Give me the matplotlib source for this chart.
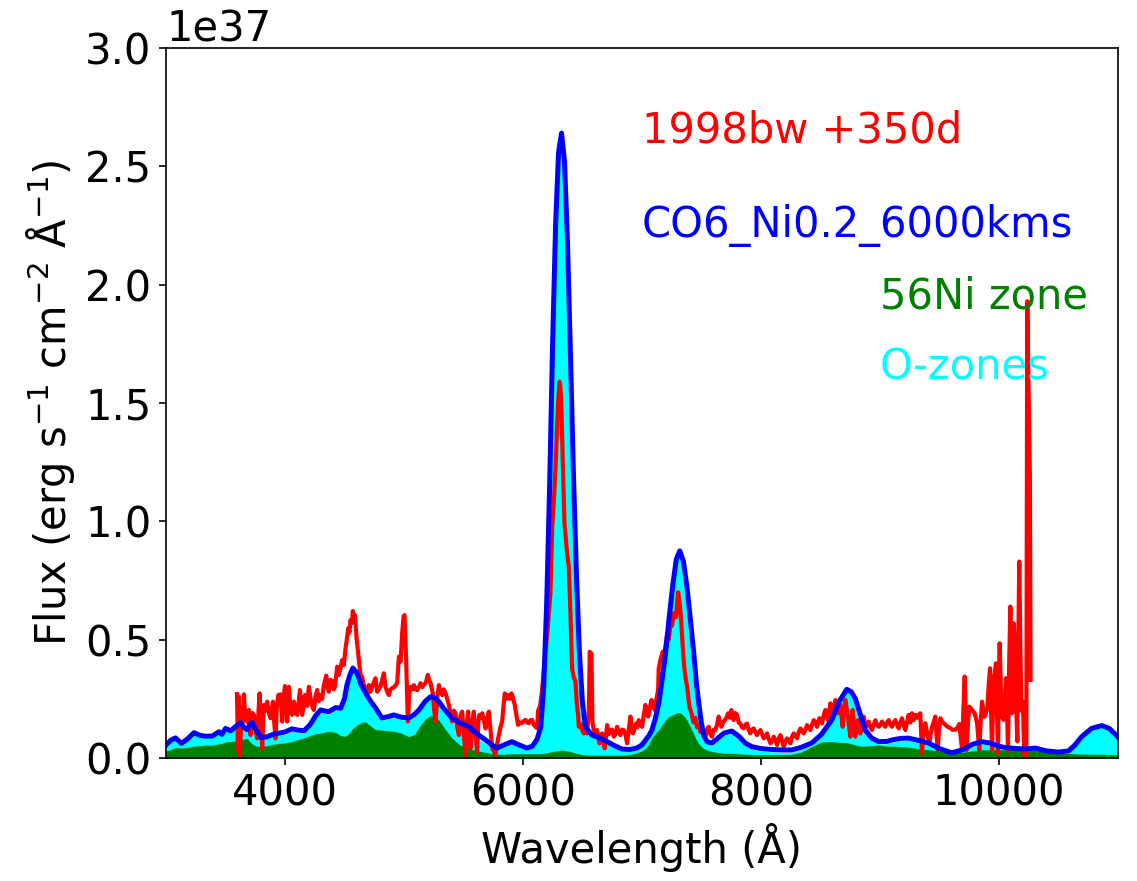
import numpy as np
import matplotlib
matplotlib.use("Agg")
import matplotlib.pyplot as plt

UNIT = 1e37

# ---- model (total), O-zones and 56Ni zone on a common wavelength grid ----
model_wave = [3000, 3040, 3080, 3130, 3180, 3235, 3290, 3340, 3390, 3445, 3470, 3500,
              3543, 3590, 3627, 3655, 3681, 3705, 3723, 3760, 3800, 3850, 3900, 3950,
              4000, 4059, 4110, 4160, 4210, 4260, 4300, 4340, 4370, 4426, 4468, 4500,
              4521, 4545, 4571, 4605, 4640, 4678, 4720, 4762, 4815, 4870, 4916, 4980,
              5042, 5090, 5126, 5180, 5224, 5260, 5294, 5350, 5403, 5470, 5546, 5620,
              5687, 5740, 5782, 5840, 5908, 5970, 6034, 6080, 6120, 6150, 6175, 6200,
              6225, 6250, 6275, 6300, 6325, 6350, 6375, 6400, 6425, 6450, 6475, 6500,
              6527, 6580, 6640, 6695, 6760, 6832, 6900, 6958, 7000, 7031, 7060, 7085,
              7115, 7143, 7170, 7199, 7227, 7260, 7290, 7319, 7350, 7380, 7409, 7437,
              7460, 7479, 7500, 7521, 7550, 7588, 7630, 7690, 7756, 7820, 7870, 7924,
              8000, 8092, 8180, 8260, 8340, 8428, 8510, 8596, 8660, 8723, 8760, 8795,
              8840, 8879, 8930, 8991, 9060, 9120, 9180, 9244, 9320, 9412, 9500, 9605,
              9700, 9780, 9857, 9930, 10000, 10056, 10150, 10224, 10308, 10400, 10504,
              10588, 10640, 10697, 10780, 10865, 10930, 11000]

model_flux = [0.055, 0.075, 0.085, 0.062, 0.080, 0.107, 0.095, 0.092, 0.093, 0.111, 0.100, 0.125,
              0.115, 0.135, 0.149, 0.130, 0.120, 0.140, 0.150, 0.115, 0.086, 0.090, 0.100, 0.105,
              0.110, 0.123, 0.118, 0.115, 0.140, 0.180, 0.203, 0.198, 0.196, 0.213, 0.210, 0.250,
              0.308, 0.350, 0.380, 0.360, 0.310, 0.274, 0.240, 0.211, 0.169, 0.175, 0.182, 0.172,
              0.169, 0.185, 0.203, 0.240, 0.259, 0.255, 0.238, 0.200, 0.169, 0.148, 0.132, 0.100,
              0.076, 0.055, 0.042, 0.055, 0.069, 0.055, 0.042, 0.050, 0.080, 0.130, 0.300, 0.650,
              1.150, 1.750, 2.250, 2.560, 2.640, 2.520, 2.180, 1.700, 1.200, 0.780, 0.450, 0.240,
              0.130, 0.097, 0.085, 0.073, 0.055, 0.038, 0.036, 0.042, 0.055, 0.076, 0.095, 0.118,
              0.170, 0.232, 0.330, 0.440, 0.580, 0.730, 0.840, 0.875, 0.830, 0.720, 0.580, 0.440,
              0.310, 0.230, 0.150, 0.095, 0.068, 0.063, 0.080, 0.105, 0.114, 0.090, 0.063, 0.048,
              0.040, 0.036, 0.034, 0.034, 0.045, 0.063, 0.100, 0.160, 0.240, 0.290, 0.280, 0.250,
              0.180, 0.118, 0.085, 0.069, 0.070, 0.078, 0.083, 0.084, 0.075, 0.063, 0.040, 0.022,
              0.035, 0.058, 0.069, 0.063, 0.050, 0.044, 0.040, 0.038, 0.042, 0.030, 0.025,
              0.030, 0.055, 0.090, 0.125, 0.137, 0.125, 0.090]

ozone_flux = [0.050, 0.070, 0.080, 0.057, 0.075, 0.102, 0.090, 0.087, 0.088, 0.106, 0.095, 0.120,
              0.110, 0.130, 0.144, 0.125, 0.115, 0.135, 0.145, 0.108, 0.078, 0.082, 0.092, 0.096,
              0.100, 0.113, 0.108, 0.105, 0.130, 0.170, 0.193, 0.188, 0.186, 0.203, 0.200, 0.240,
              0.298, 0.340, 0.372, 0.352, 0.300, 0.264, 0.230, 0.201, 0.159, 0.165, 0.172, 0.162,
              0.159, 0.175, 0.193, 0.230, 0.249, 0.245, 0.228, 0.185, 0.150, 0.128, 0.112, 0.082,
              0.060, 0.045, 0.034, 0.046, 0.060, 0.046, 0.034, 0.042, 0.072, 0.125, 0.300, 0.655,
              1.160, 1.765, 2.270, 2.580, 2.665, 2.540, 2.195, 1.710, 1.205, 0.780, 0.445, 0.232,
              0.120, 0.087, 0.075, 0.063, 0.046, 0.030, 0.028, 0.034, 0.046, 0.066, 0.085, 0.108,
              0.160, 0.225, 0.325, 0.438, 0.580, 0.733, 0.845, 0.882, 0.835, 0.722, 0.578, 0.435,
              0.302, 0.220, 0.140, 0.085, 0.058, 0.053, 0.070, 0.095, 0.104, 0.080, 0.053, 0.038,
              0.030, 0.026, 0.024, 0.024, 0.035, 0.053, 0.090, 0.152, 0.233, 0.285, 0.275, 0.244,
              0.172, 0.108, 0.075, 0.059, 0.060, 0.068, 0.073, 0.074, 0.065, 0.053, 0.030, 0.014,
              0.025, 0.048, 0.059, 0.053, 0.040, 0.034, 0.030, 0.028, 0.030, 0.020, 0.018,
              0.020, 0.050, 0.085, 0.120, 0.132, 0.120, 0.085]

ni_flux = [0.030, 0.035, 0.045, 0.042, 0.045, 0.050, 0.052, 0.055, 0.055, 0.060, 0.062, 0.068,
           0.070, 0.072, 0.076, 0.080, 0.083, 0.070, 0.060, 0.050, 0.048, 0.052, 0.058, 0.062,
           0.064, 0.070, 0.078, 0.085, 0.095, 0.103, 0.105, 0.110, 0.113, 0.108, 0.095, 0.092,
           0.095, 0.110, 0.125, 0.140, 0.150, 0.153, 0.135, 0.120, 0.118, 0.115, 0.113, 0.105,
           0.090, 0.100, 0.130, 0.165, 0.179, 0.175, 0.160, 0.120, 0.085, 0.055, 0.040, 0.030,
           0.024, 0.018, 0.016, 0.016, 0.018, 0.018, 0.018, 0.018, 0.018, 0.018, 0.020, 0.022,
           0.025, 0.027, 0.030, 0.032, 0.033, 0.032, 0.030, 0.027, 0.024, 0.020, 0.017, 0.015,
           0.013, 0.012, 0.012, 0.012, 0.012, 0.012, 0.015, 0.022, 0.030, 0.040, 0.060, 0.085,
           0.105, 0.120, 0.140, 0.160, 0.175, 0.183, 0.190, 0.192, 0.180, 0.160, 0.130, 0.100,
           0.075, 0.060, 0.048, 0.040, 0.033, 0.028, 0.024, 0.020, 0.020, 0.018, 0.016, 0.015,
           0.015, 0.015, 0.015, 0.015, 0.025, 0.048, 0.068, 0.070, 0.066, 0.065, 0.060, 0.055,
           0.050, 0.050, 0.052, 0.055, 0.050, 0.050, 0.048, 0.046, 0.040, 0.035, 0.030, 0.020,
           0.025, 0.030, 0.035, 0.035, 0.035, 0.035, 0.035, 0.035, 0.035, 0.028, 0.022,
           0.020, 0.018, 0.017, 0.016, 0.016, 0.015, 0.014]

# ---- observed spectrum SN 1998bw +350d ----
obs_wave = [3597, 3605, 3613, 3622, 3634, 3645, 3655, 3665, 3675, 3686, 3697, 3711, 3725, 3739,
            3752, 3767, 3778, 3787, 3798, 3809, 3823, 3837, 3851, 3865, 3879, 3899, 3910, 3921,
            3932, 3944, 3963, 3977, 3988, 4000, 4019, 4033, 4047, 4061, 4075, 4089, 4103, 4126,
            4145, 4168, 4185, 4201, 4224, 4243, 4257, 4271, 4285, 4299, 4313, 4327, 4347, 4358,
            4369, 4383, 4397, 4410, 4420, 4439, 4453, 4467, 4481, 4495, 4509, 4520, 4532, 4542,
            4551, 4562, 4571, 4580, 4588, 4602, 4616, 4625, 4635, 4649, 4660, 4672, 4691, 4705,
            4719, 4733, 4747, 4761, 4775, 4789, 4803, 4817, 4831, 4845, 4859, 4873, 4887, 4901,
            4921, 4943, 4958, 4972, 4986, 4998, 5005, 5012, 5019, 5033, 5045, 5056, 5070, 5084,
            5098, 5112, 5126, 5140, 5154, 5168, 5185, 5201, 5212, 5224, 5243, 5255, 5266, 5280,
            5294, 5308, 5322, 5336, 5350, 5364, 5378, 5392, 5406, 5420, 5434, 5448, 5462, 5476,
            5490, 5504, 5518, 5530, 5540, 5550, 5560, 5574, 5588, 5602, 5616, 5625, 5635, 5647,
            5658, 5672, 5686, 5700, 5714, 5728, 5742, 5756, 5770, 5784, 5798, 5812, 5826, 5837,
            5848, 5862, 5876, 5890, 5904, 5918, 5932, 5946, 5960, 5974, 5988, 6005, 6022, 6036,
            6050, 6064, 6078, 6092, 6106, 6120, 6128, 6145, 6162, 6180, 6204, 6220, 6232, 6246,
            6260, 6274, 6286, 6297, 6308, 6315, 6322, 6336, 6350, 6362, 6372, 6386, 6400, 6414,
            6428, 6442, 6455, 6465, 6470, 6485, 6498, 6512, 6526, 6540, 6555, 6562, 6570, 6576,
            6585, 6596, 6610, 6624, 6644, 6666, 6688, 6708, 6722, 6736, 6750, 6764, 6778, 6792,
            6806, 6820, 6834, 6848, 6862, 6876, 6890, 6904, 6914, 6924, 6938, 6952, 6963, 6974,
            6988, 7002, 7016, 7030, 7042, 7053, 7067, 7081, 7095, 7109, 7123, 7137, 7142, 7156,
            7176, 7184, 7198, 7212, 7226, 7240, 7254, 7268, 7288, 7298, 7305, 7312, 7319, 7328,
            7338, 7348, 7358, 7370, 7380, 7390, 7400, 7411, 7422, 7435, 7450, 7464, 7478, 7492,
            7506, 7520, 7534, 7548, 7562, 7576, 7590, 7604, 7618, 7632, 7646, 7658, 7669, 7683,
            7697, 7711, 7725, 7739, 7753, 7762, 7772, 7786, 7800, 7814, 7828, 7842, 7856, 7870,
            7884, 7898, 7912, 7926, 7940, 7954, 7968, 7982, 7997, 8011, 8025, 8039, 8053, 8067,
            8081, 8095, 8109, 8123, 8137, 8151, 8165, 8179, 8193, 8207, 8221, 8235, 8249, 8263,
            8277, 8291, 8305, 8319, 8333, 8347, 8361, 8375, 8389, 8403, 8417, 8431, 8445, 8459,
            8473, 8482, 8492, 8503, 8515, 8529, 8543, 8554, 8565, 8575, 8585, 8594, 8604, 8615,
            8627, 8638, 8649, 8659, 8669, 8678, 8688, 8700, 8711, 8722, 8733, 8743, 8753, 8762,
            8772, 8783, 8795, 8806, 8817, 8827, 8837, 8851, 8865, 8875, 8884, 8895, 8907, 8921,
            8935, 8949, 8963, 8977, 8991, 9005, 9019, 9033, 9047, 9061, 9075, 9089, 9103, 9117,
            9131, 9145, 9159, 9173, 9187, 9201, 9215, 9229, 9243, 9257, 9271, 9285, 9299, 9313,
            9327, 9341, 9355, 9369, 9383, 9400, 9417, 9428, 9440, 9453, 9467, 9477, 9487, 9498,
            9510, 9524, 9538, 9552, 9566, 9580, 9594, 9608, 9622, 9636, 9650, 9664, 9669, 9680,
            9692, 9703, 9714, 9722, 9731, 9742, 9753, 9765, 9776, 9787, 9798, 9808, 9818, 9828,
            9837, 9848, 9860, 9871, 9882, 9893, 9904, 9915, 9927, 9936, 9944, 9951, 9958, 9967,
            9977, 9985, 9994, 10001, 10008, 10015, 10022, 10032, 10042, 10052, 10061, 10070,
            10078, 10088, 10098, 10105, 10112, 10120, 10126, 10133, 10140, 10148, 10157, 10165,
            10173, 10181, 10190, 10197, 10204, 10210, 10215, 10226, 10232, 10240, 10262, 10268]

obs_flux = [0.270, 0.030, 0.260, 0.000, 0.200, 0.150, 0.269, 0.180, 0.196, 0.150, 0.203, 0.097, 0.190, 0.182,
            0.120, 0.083, 0.200, 0.273, 0.150, 0.041, 0.224, 0.200, 0.238, 0.190, 0.168, 0.238, 0.150, 0.083,
            0.220, 0.266, 0.269, 0.154, 0.250, 0.304, 0.154, 0.301, 0.200, 0.182, 0.238, 0.190, 0.182, 0.287,
            0.182, 0.266, 0.220, 0.301, 0.224, 0.203, 0.260, 0.287, 0.240, 0.266, 0.250, 0.308, 0.348, 0.300,
            0.280, 0.330, 0.325, 0.290, 0.301, 0.386, 0.351, 0.380, 0.414, 0.393, 0.463, 0.500, 0.548, 0.530,
            0.583, 0.570, 0.621, 0.590, 0.604, 0.506, 0.442, 0.400, 0.351, 0.344, 0.310, 0.301, 0.266, 0.308,
            0.280, 0.301, 0.320, 0.337, 0.280, 0.290, 0.301, 0.330, 0.358, 0.301, 0.280, 0.266, 0.290, 0.295,
            0.301, 0.316, 0.428, 0.407, 0.534, 0.600, 0.604, 0.500, 0.407, 0.154, 0.270, 0.301, 0.290, 0.308,
            0.290, 0.287, 0.300, 0.316, 0.300, 0.308, 0.320, 0.351, 0.330, 0.316, 0.273, 0.200, 0.154, 0.250,
            0.308, 0.280, 0.266, 0.290, 0.273, 0.250, 0.224, 0.190, 0.154, 0.200, 0.189, 0.130, 0.097, 0.180,
            0.196, 0.100, 0.013, 0.150, 0.196, 0.100, 0.041, 0.150, 0.196, 0.100, 0.027, 0.150, 0.182, 0.170,
            0.189, 0.160, 0.125, 0.170, 0.196, 0.120, 0.041, 0.030, 0.013, 0.060, 0.097, 0.130, 0.154, 0.220,
            0.273, 0.250, 0.266, 0.250, 0.273, 0.250, 0.224, 0.180, 0.140, 0.150, 0.147, 0.155, 0.161, 0.150,
            0.147, 0.160, 0.161, 0.140, 0.132, 0.126, 0.200, 0.220, 0.288, 0.400, 0.522, 0.620, 0.700, 0.970,
            1.080, 1.220, 1.380, 1.510, 1.590, 1.570, 1.510, 1.240, 0.990, 0.920, 0.864, 0.810, 0.610, 0.378,
            0.340, 0.324, 0.220, 0.180, 0.132, 0.144, 0.120, 0.104, 0.108, 0.104, 0.200, 0.449, 0.440, 0.442,
            0.150, 0.118, 0.100, 0.118, 0.062, 0.104, 0.041, 0.139, 0.100, 0.118, 0.120, 0.090, 0.100, 0.132,
            0.110, 0.097, 0.120, 0.118, 0.100, 0.062, 0.120, 0.175, 0.130, 0.104, 0.120, 0.146, 0.130, 0.160,
            0.140, 0.132, 0.180, 0.224, 0.200, 0.175, 0.210, 0.245, 0.220, 0.203, 0.250, 0.287, 0.378, 0.414,
            0.449, 0.432, 0.470, 0.522, 0.500, 0.558, 0.560, 0.612, 0.594, 0.660, 0.700, 0.680, 0.648, 0.600,
            0.522, 0.440, 0.378, 0.330, 0.306, 0.260, 0.216, 0.200, 0.180, 0.150, 0.170, 0.130, 0.140, 0.110,
            0.118, 0.100, 0.090, 0.120, 0.132, 0.100, 0.090, 0.120, 0.118, 0.140, 0.175, 0.150, 0.132, 0.150,
            0.160, 0.170, 0.189, 0.170, 0.203, 0.180, 0.160, 0.190, 0.182, 0.150, 0.146, 0.130, 0.125, 0.140,
            0.146, 0.120, 0.104, 0.120, 0.125, 0.110, 0.097, 0.110, 0.118, 0.100, 0.083, 0.090, 0.104, 0.080,
            0.062, 0.070, 0.090, 0.075, 0.055, 0.080, 0.097, 0.070, 0.048, 0.070, 0.083, 0.075, 0.062, 0.090,
            0.104, 0.095, 0.083, 0.110, 0.125, 0.115, 0.104, 0.120, 0.139, 0.130, 0.118, 0.140, 0.160, 0.150,
            0.132, 0.150, 0.168, 0.160, 0.146, 0.180, 0.203, 0.180, 0.160, 0.200, 0.231, 0.200, 0.175, 0.210,
            0.245, 0.220, 0.189, 0.210, 0.224, 0.180, 0.132, 0.200, 0.245, 0.210, 0.175, 0.130, 0.090, 0.150,
            0.203, 0.150, 0.090, 0.130, 0.160, 0.130, 0.104, 0.140, 0.175, 0.150, 0.132, 0.140, 0.154, 0.130,
            0.118, 0.140, 0.160, 0.140, 0.132, 0.140, 0.154, 0.140, 0.132, 0.150, 0.160, 0.140, 0.132, 0.150,
            0.160, 0.140, 0.125, 0.150, 0.168, 0.140, 0.118, 0.150, 0.182, 0.150, 0.189, 0.160, 0.182, 0.170,
            0.182, 0.189, 0.020, 0.120, 0.147, 0.100, 0.062, 0.100, 0.133, 0.150, 0.175, 0.100, 0.034, 0.120,
            0.168, 0.153, 0.147, 0.140, 0.133, 0.130, 0.126, 0.120, 0.119, 0.120, 0.126, 0.140, 0.144, 0.090,
            0.034, 0.200, 0.344, 0.200, 0.034, 0.150, 0.217, 0.210, 0.203, 0.195, 0.189, 0.170, 0.147, 0.090,
            0.034, 0.150, 0.238, 0.200, 0.175, 0.190, 0.210, 0.300, 0.379, 0.200, 0.034, 0.200, 0.330, 0.360,
            0.400, 0.200, 0.020, 0.300, 0.485, 0.350, 0.189, 0.170, 0.161, 0.250, 0.337, 0.200,
            0.030, 0.400, 0.640, 0.400, 0.189, 0.400, 0.569, 0.500, 0.457, 0.200, 0.070, 0.500,
            0.830, 0.500, 0.200, 0.220, 0.238, 0.100, 0.013, 0.020, 0.000, 1.930, 1.190, 0.330]

# ---- labels ----
label_obs = "1998bw +350d"
label_model = "CO6_Ni0.2_6000kms"
label_ni = "56Ni zone"
label_o = "O-zones"

plt.rcParams['font.family'] = ['DejaVu Sans']
plt.rcParams['font.size'] = 20

fig = plt.figure(figsize=(1137 / 150, 881 / 150), dpi=150)
ax = fig.add_axes([0.146, 0.1396, 0.837, 0.806])

mw = np.array(model_wave)
ax.fill_between(mw, 0, np.array(ozone_flux) * UNIT, color='cyan', lw=0)
ax.fill_between(mw, 0, np.array(ni_flux) * UNIT, color='green', lw=0)
ax.plot(obs_wave, np.array(obs_flux) * UNIT, color='red', lw=2.0)
ax.plot(mw, np.array(model_flux) * UNIT, color='blue', lw=2.4)

ax.set_xlim(3000, 11000)
ax.set_ylim(0, 3e37)
ax.set_xticks([4000, 6000, 8000, 10000])
ax.set_xlabel('Wavelength (Å)')
ax.set_ylabel(r'Flux (erg s$^{-1}$ cm$^{-2}$ Å$^{-1}$)')

ax.text(7000, 2.6 * UNIT, label_obs, color='red', fontsize=20)
ax.text(7000, 2.2 * UNIT, label_model, color='blue', fontsize=20)
ax.text(9000, 1.9 * UNIT, label_ni, color='green', fontsize=20)
ax.text(9000, 1.6 * UNIT, label_o, color='cyan', fontsize=20)

fig.savefig('out.png', dpi=150)
